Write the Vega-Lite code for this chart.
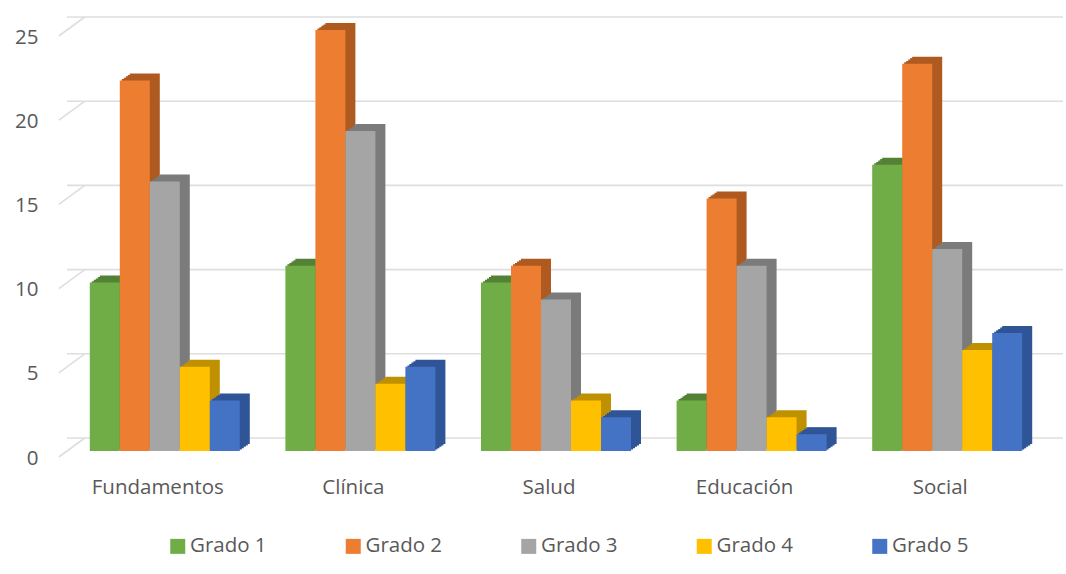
{"$schema":"https://vega.github.io/schema/vega-lite/v6.json","width":978,"height":421,"autosize":{"type":"none"},"padding":{"left":67,"top":30,"right":21,"bottom":123},"background":"#ffffff","config":{"view":{"stroke":null},"axis":{"labelFont":"Open Sans","labelColor":"#595959","labelFontSize":20.5},"legend":{"labelFont":"Open Sans","labelColor":"#595959","labelFontSize":20.5}},"datasets":{"bars":[{"area":"Fundamentos","grado":"Grado 1","valor":10},{"area":"Fundamentos","grado":"Grado 2","valor":22},{"area":"Fundamentos","grado":"Grado 3","valor":16},{"area":"Fundamentos","grado":"Grado 4","valor":5},{"area":"Fundamentos","grado":"Grado 5","valor":3},{"area":"Clínica","grado":"Grado 1","valor":11},{"area":"Clínica","grado":"Grado 2","valor":25},{"area":"Clínica","grado":"Grado 3","valor":19},{"area":"Clínica","grado":"Grado 4","valor":4},{"area":"Clínica","grado":"Grado 5","valor":5},{"area":"Salud","grado":"Grado 1","valor":10},{"area":"Salud","grado":"Grado 2","valor":11},{"area":"Salud","grado":"Grado 3","valor":9},{"area":"Salud","grado":"Grado 4","valor":3},{"area":"Salud","grado":"Grado 5","valor":2},{"area":"Educación","grado":"Grado 1","valor":3},{"area":"Educación","grado":"Grado 2","valor":15},{"area":"Educación","grado":"Grado 3","valor":11},{"area":"Educación","grado":"Grado 4","valor":2},{"area":"Educación","grado":"Grado 5","valor":1},{"area":"Social","grado":"Grado 1","valor":17},{"area":"Social","grado":"Grado 2","valor":23},{"area":"Social","grado":"Grado 3","valor":12},{"area":"Social","grado":"Grado 4","valor":6},{"area":"Social","grado":"Grado 5","valor":7}],"grid":[{"valor":0},{"valor":5},{"valor":10},{"valor":15},{"valor":20},{"valor":25}]},"layer":[{"data":{"name":"grid"},"mark":{"type":"rule","color":"#dedede","strokeWidth":1.6,"xOffset":18,"x2Offset":18,"yOffset":-13},"encoding":{"y":{"field":"valor","type":"quantitative","scale":{"domain":[0,25],"nice":false},"axis":{"title":null,"grid":false,"domain":false,"ticks":false,"values":[0,5,10,15,20,25],"labelPadding":29,"labelOffset":7}}}},{"data":{"name":"grid"},"mark":{"type":"point","shape":"M-13,9.5L13,-9.5","filled":false,"size":4,"stroke":"#dedede","strokeWidth":1.6,"opacity":1,"xOffset":-93,"yOffset":-3.5},"encoding":{"x":{"datum":"Fundamentos","type":"nominal"},"y":{"field":"valor","type":"quantitative"}}},{"data":{"name":"bars"},"encoding":{"x":{"field":"area","type":"nominal","sort":["Fundamentos","Clínica","Salud","Educación","Social"],"scale":{"domain":["Fundamentos","Clínica","Salud","Educación","Social"],"paddingInner":0.233,"paddingOuter":0.1165},"axis":{"title":null,"domain":false,"ticks":false,"labelAngle":0,"labelAlign":"center","labelBaseline":"middle","labelPadding":36,"labelOffset":-7}},"y":{"field":"valor","type":"quantitative"}},"layer":[{"transform":[{"filter":"datum.grado==='Grado 1'"}],"layer":[{"mark":{"type":"bar","width":30,"color":"#548235","xOffset":-50,"yOffset":-7,"y2Offset":-7}},{"mark":{"type":"bar","width":30,"color":"#548235","xOffset":-52,"yOffset":-5.6,"y2Offset":-5.6}},{"mark":{"type":"bar","width":30,"color":"#548235","xOffset":-54,"yOffset":-4.2,"y2Offset":-4.2}},{"mark":{"type":"bar","width":30,"color":"#548235","xOffset":-56,"yOffset":-2.8,"y2Offset":-2.8}},{"mark":{"type":"bar","width":30,"color":"#548235","xOffset":-58,"yOffset":-1.4,"y2Offset":-1.4}},{"mark":{"type":"bar","width":30,"xOffset":-60},"encoding":{"color":{"field":"grado","type":"nominal","scale":{"domain":["Grado 1","Grado 2","Grado 3","Grado 4","Grado 5"],"range":["#70AD47","#ED7D31","#A5A5A5","#FFC000","#4472C4"]},"legend":{"title":null,"orient":"none","legendX":100.5,"legendY":506,"direction":"horizontal","columns":5,"symbolType":"square","symbolSize":225,"symbolOpacity":1,"labelOffset":2,"columnPadding":75.5}}}}]},{"transform":[{"filter":"datum.grado==='Grado 2'"}],"layer":[{"mark":{"type":"bar","width":30,"color":"#AE5A21","xOffset":-20,"yOffset":-7,"y2Offset":-7}},{"mark":{"type":"bar","width":30,"color":"#AE5A21","xOffset":-22,"yOffset":-5.6,"y2Offset":-5.6}},{"mark":{"type":"bar","width":30,"color":"#AE5A21","xOffset":-24,"yOffset":-4.2,"y2Offset":-4.2}},{"mark":{"type":"bar","width":30,"color":"#AE5A21","xOffset":-26,"yOffset":-2.8,"y2Offset":-2.8}},{"mark":{"type":"bar","width":30,"color":"#AE5A21","xOffset":-28,"yOffset":-1.4,"y2Offset":-1.4}},{"mark":{"type":"bar","width":30,"xOffset":-30},"encoding":{"color":{"field":"grado","type":"nominal"}}}]},{"transform":[{"filter":"datum.grado==='Grado 3'"}],"layer":[{"mark":{"type":"bar","width":30,"color":"#7B7B7B","xOffset":10,"yOffset":-7,"y2Offset":-7}},{"mark":{"type":"bar","width":30,"color":"#7B7B7B","xOffset":8,"yOffset":-5.6,"y2Offset":-5.6}},{"mark":{"type":"bar","width":30,"color":"#7B7B7B","xOffset":6,"yOffset":-4.2,"y2Offset":-4.2}},{"mark":{"type":"bar","width":30,"color":"#7B7B7B","xOffset":4,"yOffset":-2.8,"y2Offset":-2.8}},{"mark":{"type":"bar","width":30,"color":"#7B7B7B","xOffset":2,"yOffset":-1.4,"y2Offset":-1.4}},{"mark":{"type":"bar","width":30},"encoding":{"color":{"field":"grado","type":"nominal"}}}]},{"transform":[{"filter":"datum.grado==='Grado 4'"}],"layer":[{"mark":{"type":"bar","width":30,"color":"#BF9000","xOffset":40,"yOffset":-7,"y2Offset":-7}},{"mark":{"type":"bar","width":30,"color":"#BF9000","xOffset":38,"yOffset":-5.6,"y2Offset":-5.6}},{"mark":{"type":"bar","width":30,"color":"#BF9000","xOffset":36,"yOffset":-4.2,"y2Offset":-4.2}},{"mark":{"type":"bar","width":30,"color":"#BF9000","xOffset":34,"yOffset":-2.8,"y2Offset":-2.8}},{"mark":{"type":"bar","width":30,"color":"#BF9000","xOffset":32,"yOffset":-1.4,"y2Offset":-1.4}},{"mark":{"type":"bar","width":30,"xOffset":30},"encoding":{"color":{"field":"grado","type":"nominal"}}}]},{"transform":[{"filter":"datum.grado==='Grado 5'"}],"layer":[{"mark":{"type":"bar","width":30,"color":"#2F5597","xOffset":70,"yOffset":-7,"y2Offset":-7}},{"mark":{"type":"bar","width":30,"color":"#2F5597","xOffset":68,"yOffset":-5.6,"y2Offset":-5.6}},{"mark":{"type":"bar","width":30,"color":"#2F5597","xOffset":66,"yOffset":-4.2,"y2Offset":-4.2}},{"mark":{"type":"bar","width":30,"color":"#2F5597","xOffset":64,"yOffset":-2.8,"y2Offset":-2.8}},{"mark":{"type":"bar","width":30,"color":"#2F5597","xOffset":62,"yOffset":-1.4,"y2Offset":-1.4}},{"mark":{"type":"bar","width":30,"xOffset":60},"encoding":{"color":{"field":"grado","type":"nominal"}}}]}]}]}
